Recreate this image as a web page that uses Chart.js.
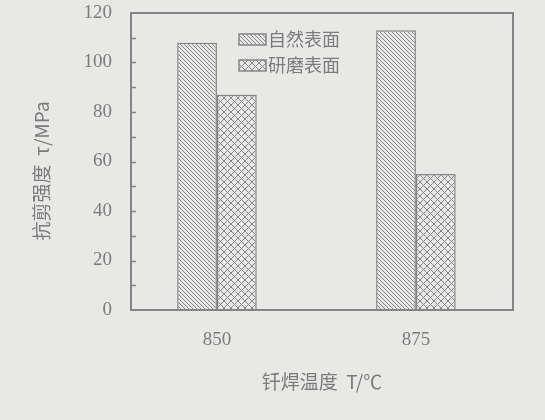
<!DOCTYPE html>
<html>
<head>
<meta charset="utf-8">
<script src="https://cdn.jsdelivr.net/npm/chart.js@4/dist/chart.umd.min.js"></script>
<style>
  html, body { margin: 0; padding: 0; background: #e8e8e6; }
  #wrap { width: 545px; height: 420px; }
</style>
</head>
<body>
<div id="wrap"><canvas id="chart" width="545" height="420"></canvas></div>
<script>
// data
var temps = [850, 875];
var seriesNames = ["自然表面", "研磨表面"];
var naturalSurface = [108, 113];
var groundSurface = [87, 55];
var yTicks = [0, 20, 40, 60, 80, 100, 120];

var bg = "#e8e8e6";
var ink = "#858585";
var textCol = "#7b7b7b";

function pairUp(values) {
  return values.map(function(v, i) { return { x: temps[i], y: v }; });
}

// hatch fills
function makeHatch(size, cross) {
  var c = document.createElement("canvas");
  c.width = size;
  c.height = size;
  var g = c.getContext("2d");
  g.fillStyle = bg;
  g.fillRect(0, 0, size, size);
  g.strokeStyle = ink;
  g.lineWidth = 1;
  g.beginPath();
  // "\" lines
  g.moveTo(-1, -1); g.lineTo(size + 1, size + 1);
  g.moveTo(-1, size - 1); g.lineTo(1, size + 1);
  g.moveTo(size - 1, -1); g.lineTo(size + 1, 1);
  if (cross) {
    // "/" lines
    g.moveTo(-1, size + 1); g.lineTo(size + 1, -1);
    g.moveTo(-1, 1); g.lineTo(1, -1);
    g.moveTo(size - 1, size + 1); g.lineTo(size + 1, size - 1);
  }
  g.stroke();
  var ctx = document.getElementById("chart").getContext("2d");
  return ctx.createPattern(c, "repeat");
}

var hatchDiag = makeHatch(4, false);
var hatchCross = makeHatch(7, true);

// background, frame, inward minor ticks, legend inside the plot
var decorations = {
  id: "decorations",
  beforeDraw: function(chart) {
    var ctx = chart.ctx;
    ctx.save();
    ctx.fillStyle = bg;
    ctx.fillRect(0, 0, chart.width, chart.height);
    ctx.restore();
  },
  afterDraw: function(chart) {
    var ctx = chart.ctx;
    var a = chart.chartArea;
    var y = chart.scales.y;
    ctx.save();
    ctx.strokeStyle = ink;
    ctx.lineWidth = 2;
    ctx.strokeRect(a.left, a.top, a.right - a.left, a.bottom - a.top);

    ctx.lineWidth = 1.5;
    ctx.beginPath();
    for (var v = 10; v < 120; v += 10) {
      var py = Math.round(y.getPixelForValue(v)) + 0.5;
      ctx.moveTo(a.left, py);
      ctx.lineTo(a.left + 5, py);
    }
    ctx.stroke();

    // legend
    var lx = 239, ly = 34;
    chart.data.datasets.forEach(function(ds, i) {
      var by = ly + i * 26;
      ctx.fillStyle = ds.backgroundColor;
      ctx.fillRect(lx, by, 27, 11);
      ctx.strokeStyle = ink;
      ctx.lineWidth = 1.5;
      ctx.strokeRect(lx, by, 27, 11);
      ctx.fillStyle = textCol;
      ctx.font = "18px 'Noto Sans CJK SC'";
      ctx.textBaseline = "middle";
      ctx.textAlign = "left";
      ctx.fillText(ds.label, lx + 29, by + 5.5);
    });
    ctx.restore();
  }
};

new Chart(document.getElementById("chart"), {
  type: "bar",
  data: {
    datasets: [
      {
        label: seriesNames[0],
        data: pairUp(naturalSurface),
        backgroundColor: hatchDiag,
        borderColor: ink,
        borderWidth: 1.5
      },
      {
        label: seriesNames[1],
        data: pairUp(groundSurface),
        backgroundColor: hatchCross,
        borderColor: ink,
        borderWidth: 1.5
      }
    ]
  },
  options: {
    responsive: false,
    animation: false,
    layout: { padding: { left: 30, right: 32, top: 13, bottom: 27 } },
    datasets: {
      bar: { barPercentage: 1, categoryPercentage: 0.40 }
    },
    plugins: {
      legend: { display: false },
      tooltip: { enabled: false }
    },
    scales: {
      x: {
        type: "linear",
        min: 839.2,
        max: 887.2,
        offset: false,
        grid: { display: false, drawTicks: false },
        border: { display: false },
        afterBuildTicks: function(scale) {
          scale.ticks = temps.map(function(v) { return { value: v }; });
        },
        ticks: {
          color: textCol,
          padding: 19,
          font: { family: "'Liberation Serif', serif", size: 19 },
          callback: function(v) { return String(v); }
        },
        title: {
          display: true,
          text: "钎焊温度  T/℃",
          color: textCol,
          padding: 0,
          font: { family: "'Noto Sans CJK SC'", size: 19 }
        },
        afterFit: function(scale) {
          scale.height = 83;
          scale.paddingLeft = 0;
          scale.paddingRight = 0;
        }
      },
      y: {
        min: 0,
        max: 120,
        grid: { display: false, drawTicks: false },
        border: { display: false },
        afterBuildTicks: function(scale) {
          scale.ticks = yTicks.map(function(v) { return { value: v }; });
        },
        ticks: {
          color: textCol,
          padding: 19,
          font: { family: "'Liberation Serif', serif", size: 19 }
        },
        title: {
          display: true,
          text: "抗剪强度  τ/MPa\u3000",
          color: textCol,
          padding: 0,
          font: { family: "'Noto Sans CJK SC'", size: 19 }
        },
        afterFit: function(scale) {
          scale.width = 101;
          scale.paddingTop = 0;
          scale.paddingBottom = 0;
        }
      }
    }
  },
  plugins: [decorations]
});
</script>
</body>
</html>
